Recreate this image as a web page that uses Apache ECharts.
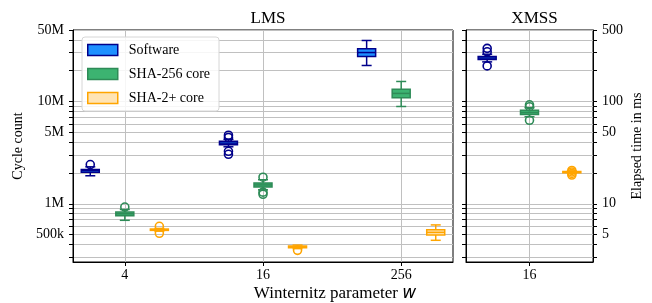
<!DOCTYPE html>
<html>
<head>
<meta charset="utf-8">
<script src="https://cdn.jsdelivr.net/npm/echarts@6/dist/echarts.min.js"></script>
<style>
html, body { margin: 0; padding: 0; background: #fff; }
#chart { width: 652px; height: 303px; }
</style>
</head>
<body>
<div id="chart"></div>
<script>
const lmsParams = ['4', '16', '256']
const xmssParams = ['16']

// box stats: [lower whisker, q1, median, q3, upper whisker] in cycles
const lmsSoftware = [[1.88e6, 2.03e6, 2.11e6, 2.17e6, 2.30e6], [3.61e6, 3.77e6, 3.92e6, 4.08e6, 4.27e6], [22.5e6, 27.5e6, 30.1e6, 32.7e6, 39.5e6]]
const lmsSha256 = [[0.69e6, 0.765e6, 0.80e6, 0.83e6, 0.88e6], [1.37e6, 1.46e6, 1.53e6, 1.60e6, 1.72e6], [8.94e6, 10.9e6, 12.0e6, 13.2e6, 15.7e6]]
const lmsSha2plus = [[0.54e6, 0.55e6, 0.557e6, 0.567e6, 0.575e6], [0.365e6, 0.372e6, 0.380e6, 0.388e6, 0.395e6], [0.44e6, 0.496e6, 0.526e6, 0.557e6, 0.622e6]]
const xmssSoftware = [[24.4e6, 25.7e6, 26.6e6, 27.6e6, 29.0e6]]
const xmssSha256 = [[7.1e6, 7.45e6, 7.8e6, 8.2e6, 8.7e6]]
const xmssSha2plus = [[1.99e6, 2.01e6, 2.04e6, 2.07e6, 2.09e6]]

// outliers in cycles
const lmsSoftwareOut = [[2.42e6], [4.68e6, 4.45e6, 3.26e6, 3.05e6], []]
const lmsSha256Out = [[0.93e6], [1.82e6, 1.24e6, 1.30e6], []]
const lmsSha2plusOut = [[0.603e6, 0.515e6], [0.351e6], []]
const xmssSoftwareOut = [[33.1e6, 30.6e6, 22.3e6]]
const xmssSha256Out = [[9.29e6, 8.9e6, 6.55e6]]
const xmssSha2plusOut = [[2.12e6, 2.05e6, 1.98e6, 1.91e6]]

// axis ticks
const cycleLabels = [5e5, 1e6, 5e6, 1e7, 5e7]
const cycleTicks = [3e5, 4e5, 5e5, 6e5, 7e5, 8e5, 9e5, 1e6, 2e6, 3e6, 4e6, 5e6, 6e6, 7e6, 8e6, 9e6, 1e7, 2e7, 3e7, 4e7, 5e7]
const msLabels = [5, 10, 50, 100, 500]
const msTicks = [3, 4, 5, 6, 7, 8, 9, 10, 20, 30, 40, 50, 60, 70, 80, 90, 100, 200, 300, 400, 500]

const FONT = 'Liberation Serif'
const groups = [
    {name: 'Software', fill: '#1e90ff', edge: '#00008b', offset: -0.25},
    {name: 'SHA-256 core', fill: '#3cb371', edge: '#2e8b57', offset: 0},
    {name: 'SHA-2+ core', fill: '#ffe4b5', edge: '#ffa500', offset: 0.25}
]

function boxSeries(g, panel, boxes, outliers) {
    return {
        type: 'custom',
        name: g.name,
        xAxisIndex: panel,
        yAxisIndex: panel,
        itemStyle: {color: g.fill, borderColor: g.edge},
        encode: {x: 0, y: [1, 2, 3, 4, 5]},
        data: boxes.map((b, i) => [i + g.offset].concat(b)),
        renderItem(params, api) {
            const x = api.value(0)
            const lo = api.coord([x, api.value(1)])
            const q1 = api.coord([x, api.value(2)])
            const md = api.coord([x, api.value(3)])
            const q3 = api.coord([x, api.value(4)])
            const hi = api.coord([x, api.value(5)])
            const cx = lo[0]
            const line = (x1, y1, x2, y2) => ({
                type: 'line',
                shape: {x1, y1, x2, y2},
                style: {stroke: g.edge, lineWidth: 1.5}
            })
            const children = [
                line(cx, lo[1], cx, q1[1]),
                line(cx, q3[1], cx, hi[1]),
                line(cx - 5, lo[1], cx + 5, lo[1]),
                line(cx - 5, hi[1], cx + 5, hi[1]),
                {
                    type: 'rect',
                    shape: {x: cx - 9, y: q3[1], width: 18, height: q1[1] - q3[1]},
                    style: {fill: g.fill, stroke: g.edge, lineWidth: 1.5}
                },
                line(cx - 9, md[1], cx + 9, md[1])
            ]
            outliers[params.dataIndex].forEach(v => {
                const p = api.coord([x, v])
                children.push({
                    type: 'circle',
                    shape: {cx: p[0], cy: p[1], r: 4},
                    style: {fill: 'none', stroke: g.edge, lineWidth: 1.6}
                })
            })
            return {type: 'group', children: children}
        }
    }
}

const fmtCycles = v => v >= 1e6 ? Math.round(v / 1e6) + 'M' : Math.round(v / 1e3) + 'k'
const gridLine = {show: true, lineStyle: {color: '#c0c0c0', width: 1}}
const axisLine = {show: true, onZero: false, lineStyle: {color: '#000', width: 1}}
const labelStyle = {fontFamily: FONT, fontSize: 14, color: '#000'}

const option = {
    animation: false,
    textStyle: {fontFamily: FONT},
    title: [
        {text: 'LMS', left: 263, top: 5, textAlign: 'center', textStyle: {fontFamily: FONT, fontSize: 17, fontWeight: 'normal', color: '#000'}},
        {text: 'XMSS', left: 529.5, top: 5, textAlign: 'center', textStyle: {fontFamily: FONT, fontSize: 17, fontWeight: 'normal', color: '#000'}},
        {
            text: 'Winternitz parameter {w|w}', left: 330, top: 280, textAlign: 'center',
            textStyle: {
                fontFamily: FONT, fontSize: 17, fontWeight: 'normal', color: '#000',
                rich: {w: {fontFamily: 'DejaVu Sans', fontStyle: 'italic', fontSize: 17, color: '#000'}}
            }
        }
    ],
    legend: {
        left: 82,
        top: 37,
        orient: 'vertical',
        icon: 'rect',
        itemWidth: 30,
        itemHeight: 11,
        itemGap: 10,
        padding: [6, 9, 6, 5],
        backgroundColor: 'rgba(255,255,255,0.85)',
        borderColor: '#d6d6d6',
        borderWidth: 1,
        borderRadius: 3,
        textStyle: {fontFamily: FONT, fontSize: 14, color: '#000', padding: [0, 0, 0, 6]},
        data: groups.map(g => ({name: g.name, itemStyle: {color: g.fill, borderColor: g.edge, borderWidth: 1.5}}))
    },
    grid: [
        {left: 73, right: 199, top: 30, bottom: 41, show: true, borderColor: '#000', borderWidth: 1},
        {left: 466, right: 59, top: 30, bottom: 41, show: true, borderColor: '#000', borderWidth: 1}
    ],
    xAxis: [
        {
            type: 'value', gridIndex: 0, min: -0.375, max: 2.375,
            axisLine: axisLine,
            axisTick: {show: true, length: 4, customValues: [0, 1, 2], lineStyle: {color: '#000'}},
            axisLabel: Object.assign({customValues: [0, 1, 2], formatter: v => lmsParams[v], margin: 6}, labelStyle),
            splitLine: gridLine
        },
        {
            type: 'value', gridIndex: 1, min: -0.375, max: 0.375,
            axisLine: axisLine,
            axisTick: {show: true, length: 4, customValues: [0], lineStyle: {color: '#000'}},
            axisLabel: Object.assign({customValues: [0], formatter: v => xmssParams[v], margin: 6}, labelStyle),
            splitLine: gridLine
        }
    ],
    yAxis: [
        {
            type: 'log', gridIndex: 0, position: 'left', min: 2.7e5, max: 5.0002e7,
            name: 'Cycle count', nameLocation: 'middle', nameRotate: 90, nameGap: 43,
            nameTextStyle: labelStyle,
            axisLine: axisLine,
            axisTick: {show: true, length: 4, customValues: cycleTicks, lineStyle: {color: '#000'}},
            axisLabel: Object.assign({customValues: cycleLabels, formatter: fmtCycles, margin: 9}, labelStyle),
            splitLine: gridLine
        },
        {
            type: 'log', gridIndex: 1, position: 'left', min: 2.7e5, max: 5.0002e7,
            axisLine: axisLine,
            axisTick: {show: true, length: 4, customValues: cycleTicks, lineStyle: {color: '#000'}},
            axisLabel: {show: false},
            splitLine: gridLine
        },
        {
            type: 'log', gridIndex: 1, position: 'right', min: 2.7, max: 500.002,
            name: 'Elapsed time in ms', nameLocation: 'middle', nameRotate: 90, nameGap: 37,
            nameTextStyle: labelStyle,
            axisLine: axisLine,
            axisTick: {show: true, length: 4, customValues: msTicks, lineStyle: {color: '#000'}},
            axisLabel: Object.assign({customValues: msLabels, margin: 9}, labelStyle),
            splitLine: {show: false}
        }
    ],
    series: [
        boxSeries(groups[0], 0, lmsSoftware, lmsSoftwareOut),
        boxSeries(groups[1], 0, lmsSha256, lmsSha256Out),
        boxSeries(groups[2], 0, lmsSha2plus, lmsSha2plusOut),
        boxSeries(groups[0], 1, xmssSoftware, xmssSoftwareOut),
        boxSeries(groups[1], 1, xmssSha256, xmssSha256Out),
        boxSeries(groups[2], 1, xmssSha2plus, xmssSha2plusOut)
    ]
}

const chart = echarts.init(document.getElementById('chart'))
chart.setOption(option)
</script>
</body>
</html>
